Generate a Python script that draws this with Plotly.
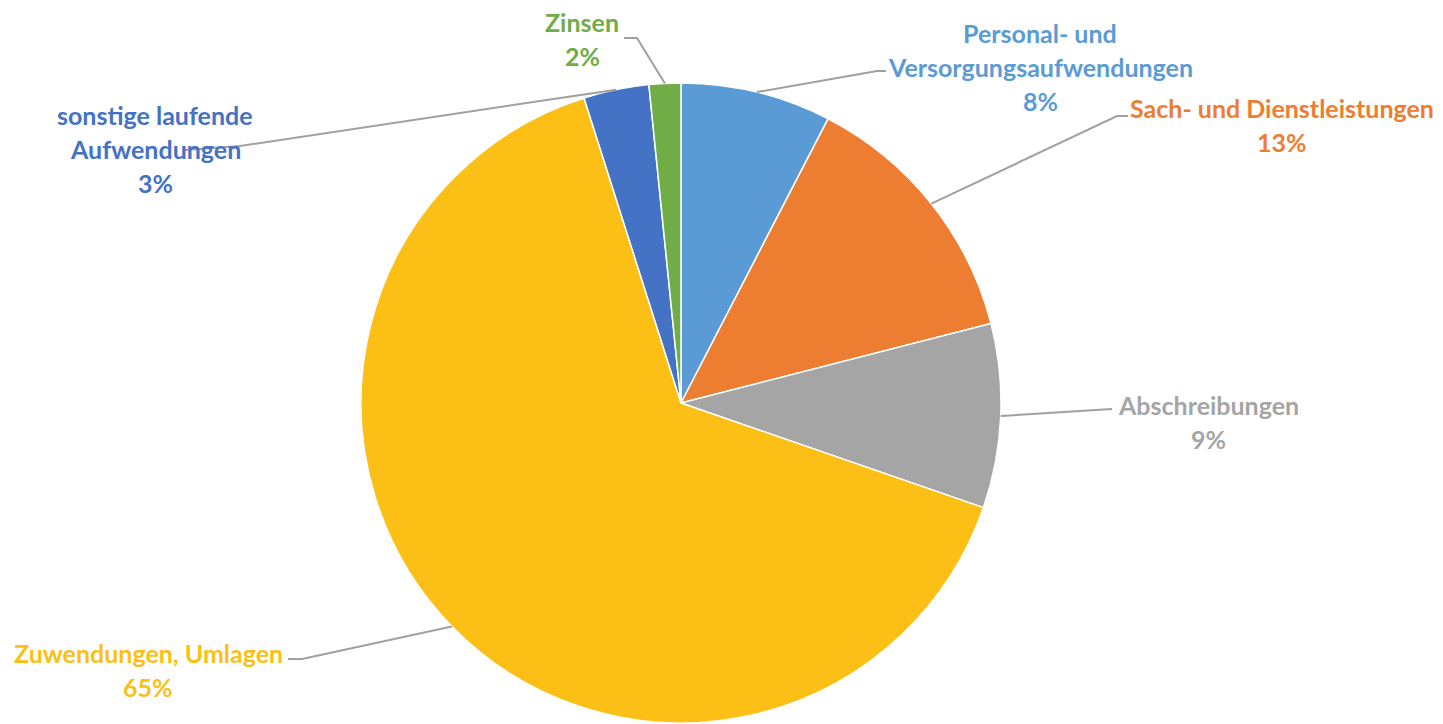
import math
import plotly.graph_objects as go

# ---- data ----
categories = ["Personal- und Versorgungsaufwendungen", "Sach- und Dienstleistungen",
              "Abschreibungen", "Zuwendungen, Umlagen", "sonstige laufende Aufwendungen", "Zinsen"]
values = [7.6, 13.4, 9.3, 64.8, 3.3, 1.6]
label_lines = [["Personal- und", "Versorgungsaufwendungen"],
               ["Sach- und Dienstleistungen"],
               ["Abschreibungen"],
               ["Zuwendungen, Umlagen"],
               ["sonstige laufende", "Aufwendungen"],
               ["Zinsen"]]
colors = ["#5B9BD5", "#ED7D31", "#A5A5A5", "#FBBF16", "#4472C4", "#70AD47"]

# ---- layout constants (pixels in the screenshot) ----
W, H = 1443, 724
OFF = 8  # page body margin
CX, CY, R = 681, 403, 320
LINE_H = 34
FONT = "Lato"
FS = 25
label_pos = [(1040, 33), (1282, 108), (1208, 405), (148, 653), (155, 115), (582, 22)]
leader_pts = [[(877, 71), (886, 71)],
              [(1117, 116), (1128, 116)],
              [(1112, 409)],
              [(302, 659), (288, 659)],
              [(240, 146), (185, 150)],
              [(637, 38), (624, 38)]]

def px(x, y):
    return (x - OFF) / W, 1 - (y - OFF) / H

x0, y1 = px(CX - R, CY + R)
x1, y0 = px(CX + R, CY - R)

fig = go.Figure(go.Pie(
    labels=categories, values=values, sort=False, direction="clockwise", rotation=0,
    marker=dict(colors=colors, line=dict(color="white", width=1.5)),
    textinfo="none", hoverinfo="label+percent", showlegend=False,
    domain=dict(x=[x0, x1], y=[y1, y0]),
))

total = sum(values)
cum = 0.0
shapes, annotations = [], []
for i, v in enumerate(values):
    mid = (cum + v / 2) / total * 2 * math.pi
    cum += v
    sx, sy = CX + R * math.sin(mid), CY - R * math.cos(mid)
    pts = [(sx, sy)] + leader_pts[i]
    path = "M " + " L ".join(f"{px(x, y)[0]},{px(x, y)[1]}" for x, y in pts)
    shapes.append(dict(type="path", path=path, xref="paper", yref="paper",
                       line=dict(color="#A0A0A0", width=2)))
    lines = label_lines[i] + [f"{round(v / total * 100)}%"]
    lx, ly = label_pos[i]
    for j, t in enumerate(lines):
        ax, ay = px(lx, ly + j * LINE_H)
        annotations.append(dict(text=f"<b>{t}</b>", x=ax, y=ay, xref="paper", yref="paper",
                                showarrow=False, xanchor="center", yanchor="middle",
                                font=dict(family=FONT, size=FS, color=colors[i])))

fig.update_layout(width=W, height=H, margin=dict(l=0, r=0, t=0, b=0),
                  paper_bgcolor="white", plot_bgcolor="white",
                  shapes=shapes, annotations=annotations)
fig.write_html("out.html")
